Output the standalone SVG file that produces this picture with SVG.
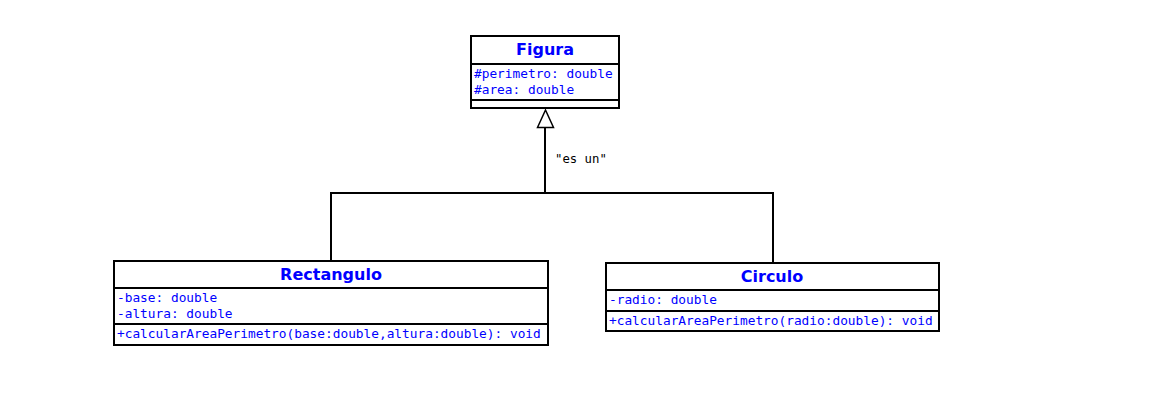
<svg xmlns="http://www.w3.org/2000/svg" width="1175" height="405" viewBox="0 0 1175 405">
<style>
.box{fill:#fff;stroke:#000;stroke-width:2}
.sep{stroke:#000;stroke-width:2}
.title{font-family:"DejaVu Sans",sans-serif;font-weight:bold;font-size:16px;fill:#0000ff;text-anchor:middle}
.mem{font-family:"DejaVu Sans Mono",monospace;font-size:12.8px;fill:#0000ff}
.lbl{font-family:"DejaVu Sans Mono",monospace;font-size:12.3px;fill:#000}
.conn{fill:none;stroke:#000;stroke-width:2}
</style>
<rect width="1175" height="405" fill="#fff"/>
<g id="connectors">
<polyline class="conn" points="331,261 331,193 773,193 773,263"/>
<line class="conn" x1="545" y1="193" x2="545" y2="127"/>
<polygon points="545.5,110 537.5,127.5 553.5,127.5" fill="#fff" stroke="#000" stroke-width="1.5"/>
<text class="lbl" x="555" y="163">"es un"</text>
</g>
<g id="Figura">
<rect class="box" x="471" y="36" width="148" height="72"/>
<line class="sep" x1="471" y1="64" x2="619" y2="64"/>
<line class="sep" x1="471" y1="100" x2="619" y2="100"/>
<text class="title" x="545" y="55">Figura</text>
<text class="mem" x="474" y="78">#perimetro: double</text>
<text class="mem" x="474" y="94">#area: double</text>
</g>
<g id="Rectangulo">
<rect class="box" x="114" y="261" width="434" height="84"/>
<line class="sep" x1="114" y1="288" x2="548" y2="288"/>
<line class="sep" x1="114" y1="324" x2="548" y2="324"/>
<text class="title" x="331" y="280">Rectangulo</text>
<text class="mem" x="117" y="302">-base: double</text>
<text class="mem" x="117" y="318">-altura: double</text>
<text class="mem" x="117" y="338">+calcularAreaPerimetro(base:double,altura:double): void</text>
</g>
<g id="Circulo">
<rect class="box" x="606" y="263" width="333" height="68"/>
<line class="sep" x1="606" y1="290" x2="939" y2="290"/>
<line class="sep" x1="606" y1="311" x2="939" y2="311"/>
<text class="title" x="772" y="282">Circulo</text>
<text class="mem" x="609" y="304">-radio: double</text>
<text class="mem" x="609" y="325">+calcularAreaPerimetro(radio:double): void</text>
</g>
</svg>
